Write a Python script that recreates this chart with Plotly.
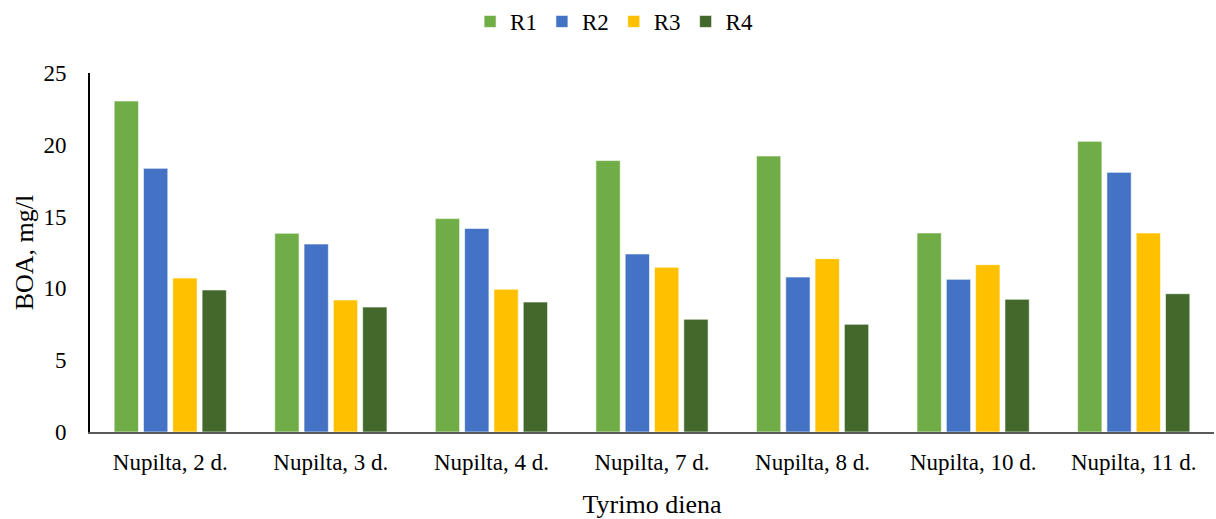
import plotly.graph_objects as go

categories = ["Nupilta, 2 d.", "Nupilta, 3 d.", "Nupilta, 4 d.", "Nupilta, 7 d.",
              "Nupilta, 8 d.", "Nupilta, 10 d.", "Nupilta, 11 d."]
r1 = [23.05, 13.84, 14.86, 18.90, 19.22, 13.86, 20.24]
r2 = [18.36, 13.09, 14.18, 12.40, 10.79, 10.63, 18.08]
r3 = [10.72, 9.19, 9.94, 11.47, 12.07, 11.65, 13.86]
r4 = [9.89, 8.70, 9.05, 7.85, 7.50, 9.24, 9.63]

series_names = ["R1", "R2", "R3", "R4"]
series_values = [r1, r2, r3, r4]
colors = ["#70AD47", "#4472C4", "#FFC000", "#43682B"]

FONT = "Liberation Serif, Times New Roman, serif"

fig = go.Figure()
for name, vals, col in zip(series_names, series_values, colors):
    fig.add_trace(go.Bar(
        x=categories, y=vals, name=name,
        marker=dict(color=col, line=dict(color="rgba(255,255,255,0.6)", width=1)),
    ))

fig.update_layout(
    width=1216, height=519,
    margin=dict(l=90, r=2, t=73, b=87),
    paper_bgcolor="white", plot_bgcolor="white",
    barmode="group", bargap=0.27, bargroupgap=0.17,
    font=dict(family=FONT, color="#000000", size=22),
    legend=dict(orientation="h", xref="container", x=0.505, xanchor="center",
                yref="container", y=1.0, yanchor="top",
                font=dict(family=FONT, size=23), itemwidth=30,
                tracegroupgap=0),
    xaxis=dict(
        showline=True, linecolor="#595959", linewidth=2,
        ticks="", showgrid=False, ticklabelstandoff=8, automargin=False,
        tickfont=dict(family=FONT, size=23),
        title=dict(text="Tyrimo diena", font=dict(family=FONT, size=26), standoff=27),
    ),
    yaxis=dict(
        range=[0, 25], tickvals=[0, 5, 10, 15, 20, 25],
        showline=True, linecolor="#000000", linewidth=2,
        ticks="", showgrid=False, zeroline=False, ticklabelstandoff=17,
        automargin=False,
        tickfont=dict(family=FONT, size=23),
        title=dict(text="BOA, mg/l", font=dict(family=FONT, size=26), standoff=2),
    ),
)

fig.write_html("out.html")
